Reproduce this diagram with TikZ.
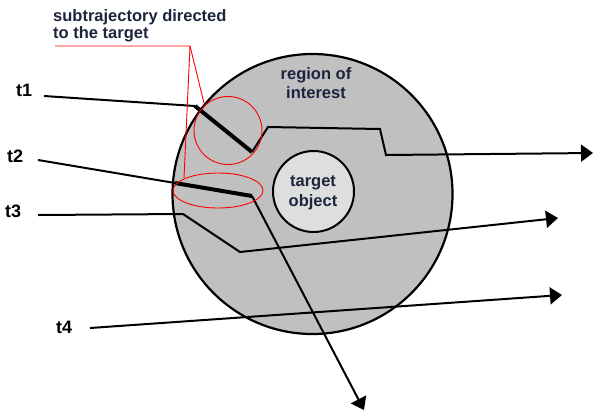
\documentclass[tikz,border=0pt]{standalone}
\usepackage{fontspec}
\setmainfont{Liberation Sans}
\usetikzlibrary{arrows.meta}
\definecolor{roi}{RGB}{192,192,192}
\definecolor{tgt}{RGB}{222,222,222}
\definecolor{navy}{RGB}{28,36,62}
\definecolor{ann}{RGB}{255,0,0}
\begin{document}
\begin{tikzpicture}[x=1pt,y=-1pt,
  traj/.style={line width=2pt, line join=miter},
  thickseg/.style={line width=4pt},
  arr/.style={-{Triangle[length=12pt,width=17pt]}},
  lbl/.style={font=\bfseries\fontsize{18}{18}\selectfont, inner sep=0pt},
  txt/.style={font=\bfseries\fontsize{16.5}{19.5}\selectfont, text=navy, align=center, inner sep=0pt},
  subtxt/.style={font=\bfseries\fontsize{16.5}{17}\selectfont, text=navy, align=left, inner sep=0pt},
  redl/.style={draw=ann, line width=0.9pt}]
\useasboundingbox (0,0) rectangle (593,416);
% region of interest
\node[circle, draw, line width=2.2pt, fill=roi, minimum size=280pt, inner sep=0pt] (roi) at (312.5,194) {};
\node[circle, draw, line width=2pt, fill=tgt, minimum size=81pt, inner sep=0pt] (tgtc) at (313.5,191.5) {};
\node[txt] (roiT) at (316,83) {region of\\interest};
\node[txt] (tgtT) at (313,193) {target\\object};
% labels
\node[lbl, anchor=west] (t1) at (16,90) {t1};
\node[lbl, anchor=west] (t2) at (7,156) {t2};
\node[lbl, anchor=west] (t3) at (5,211) {t3};
\node[lbl, anchor=west] (t4) at (56,327) {t4};
% trajectory points
\coordinate (a0) at (44,96);
\coordinate (a1) at (195,106);
\coordinate (a2) at (252,152);
\coordinate (a3) at (268,127);
\coordinate (a4) at (380,129);
\coordinate (a5) at (386,155);
\coordinate (a6) at (593,153);
\coordinate (b0) at (38,160);
\coordinate (b1) at (175,183);
\coordinate (b2) at (252,196);
\coordinate (b3) at (364,410);
\coordinate (c0) at (38,215);
\coordinate (c1) at (183,214);
\coordinate (c2) at (240,252);
\coordinate (c3) at (558,218);
\coordinate (d0) at (90,328);
\coordinate (d1) at (562,295);
% trajectories
\draw[traj] (a0) -- (a1);
\draw[thickseg] (a1) -- (a2);
\draw[traj, arr] (a2) -- (a3) -- (a4) -- (a5) -- (a6);
\draw[traj] (b0) -- (b1);
\draw[thickseg] (b1) -- (b2);
\draw[traj, arr] (b2) -- (b3);
\draw[traj, arr] (c0) -- (c1) -- (c2) -- (c3);
\draw[traj, arr] (d0) -- (d1);
% annotation
\node[subtxt, anchor=north west] (sub) at (53,9.5) {subtrajectory directed\\to the target};
\coordinate (h0) at (55,46);
\coordinate (h1) at (190,46);
\coordinate (p1) at (204,103);
\coordinate (p2) at (184,178);
\draw[redl] (h0) -- (h1) -- (p1);
\draw[redl] (h1) -- (p2);
\draw[redl] (228,130.5) circle[radius=34];
\draw[redl] (218,190.5) ellipse[x radius=45, y radius=17.5];
\end{tikzpicture}
\end{document}
